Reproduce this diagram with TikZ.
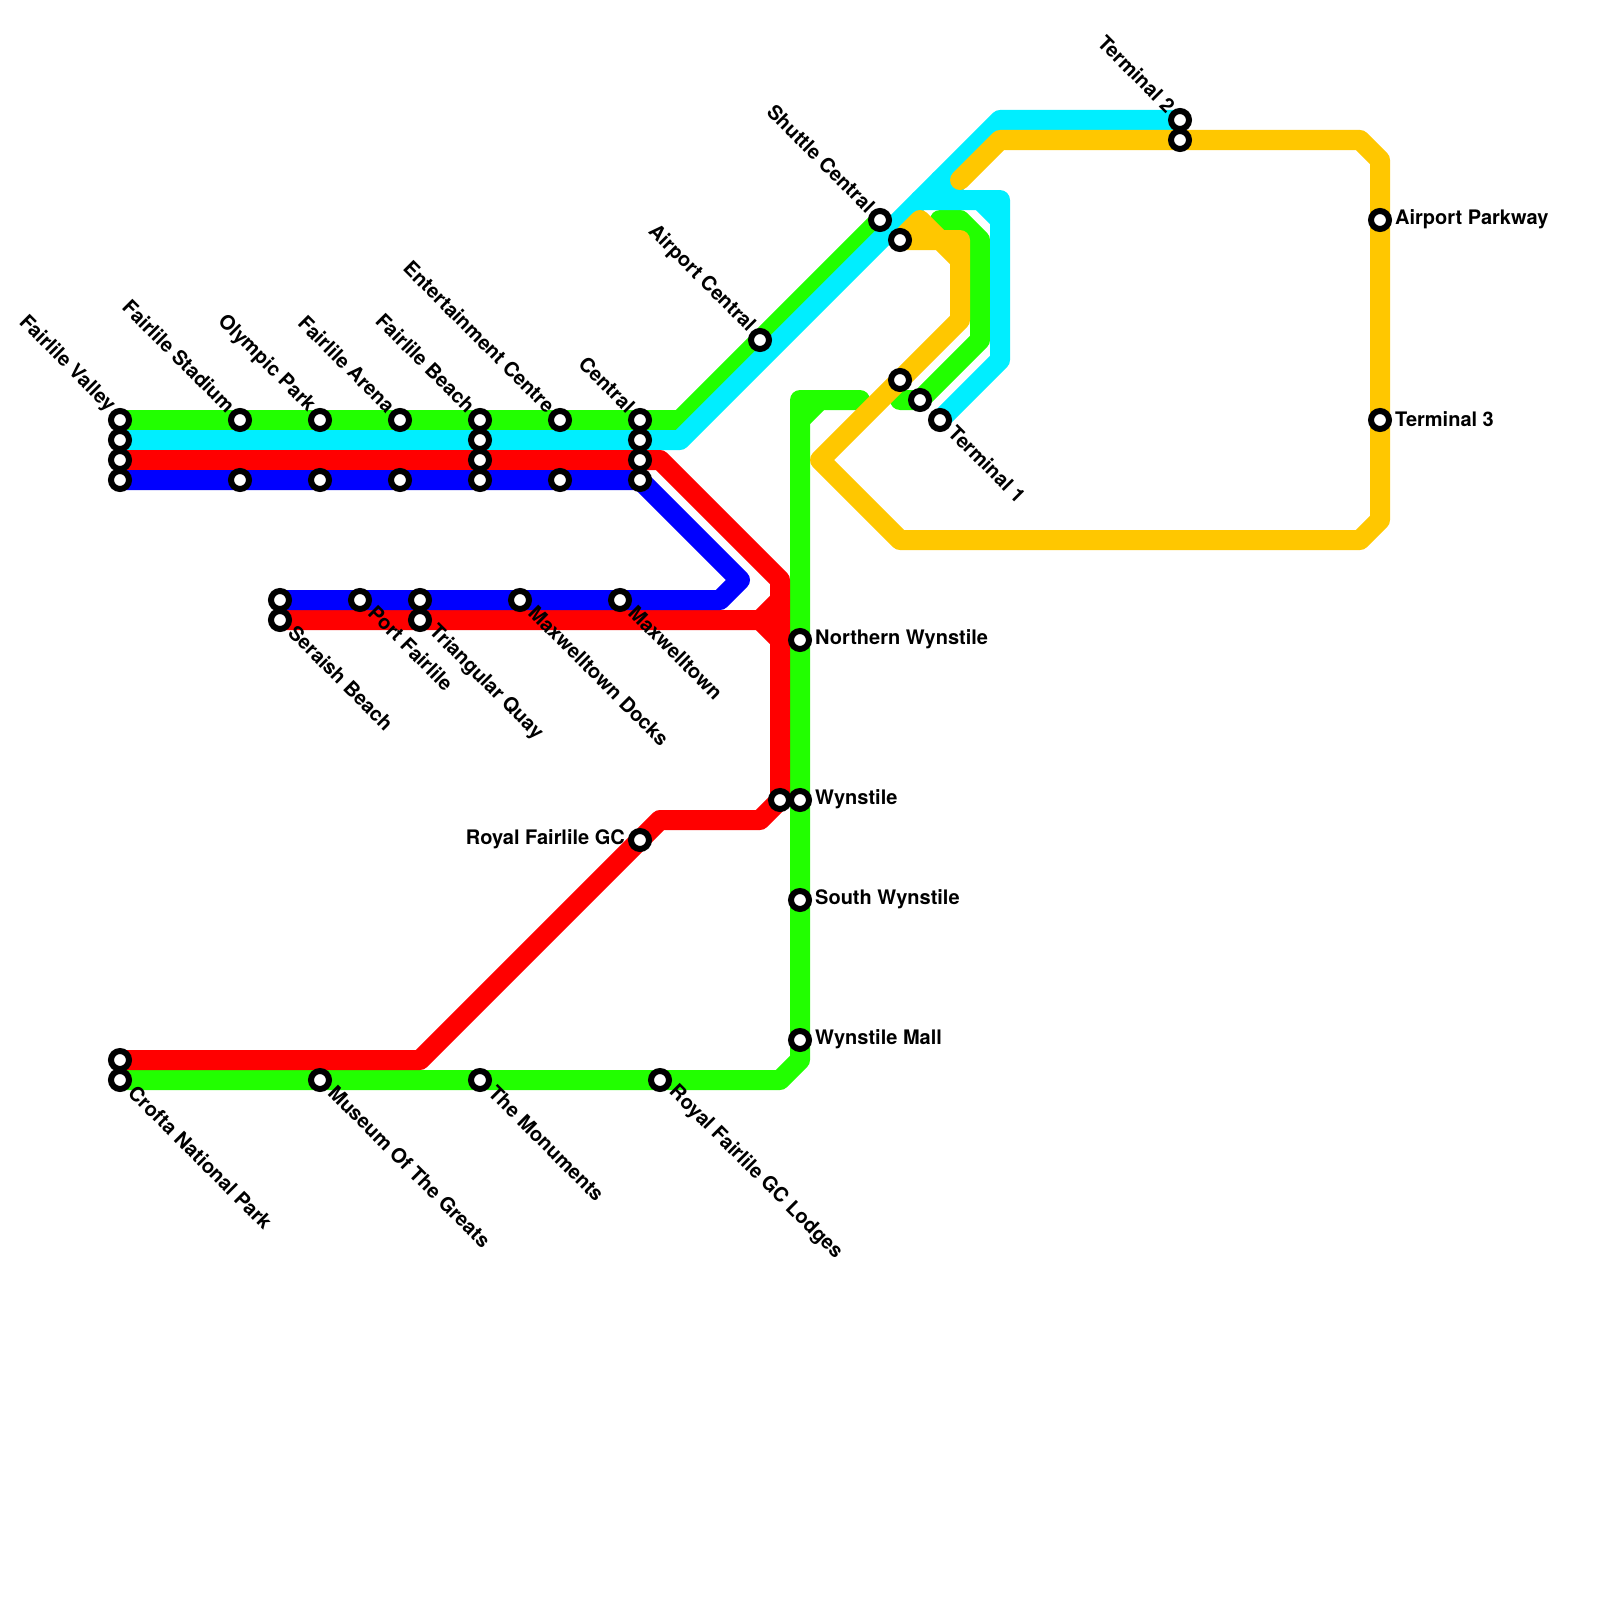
\documentclass[tikz,border=0pt]{standalone}
\usepackage{fontspec}
\setmainfont{TeX Gyre Heros}
\usetikzlibrary{calc}
\pgfdeclarelayer{lines}
\pgfsetlayers{lines,main}
\definecolor{lgreen}{RGB}{34,255,0}
\definecolor{lcyan}{RGB}{0,238,255}
\definecolor{lred}{RGB}{255,0,0}
\definecolor{lblue}{RGB}{0,0,255}
\definecolor{lyellow}{RGB}{255,199,0}
\tikzset{
  x=1pt,y=-1pt,
  metro/.style={line width=20pt,line cap=round,line join=round},
  stn/.style={circle,draw=black,fill=white,line width=6pt,minimum size=18pt,inner sep=0pt,outer sep=0pt},
  lab/.style={font=\bfseries\fontsize{20pt}{24pt}\selectfont,inner sep=0pt,text=black},
  nwlab/.style={lab,shift={(-8.5,-11)},rotate=-45,anchor=east},
  selab/.style={lab,shift={(12,9)},rotate=-45,anchor=west},
  elab/.style={lab,shift={(15,-0.5)},anchor=west},
  wlab/.style={lab,shift={(-15,-0.5)},anchor=east},
}
\begin{document}
\begin{tikzpicture}
\useasboundingbox (0,0) rectangle (1600,1600);
% stations: upper trunk
\node[stn] (fvG) at (120,420) {};
\node[stn] (fvC) at (120,440) {};
\node[stn] (fvR) at (120,460) {};
\node[stn] (fvB) at (120,480) {};
\node[stn] (fsG) at (240,420) {};
\node[stn] (fsB) at (240,480) {};
\node[stn] (opG) at (320,420) {};
\node[stn] (opB) at (320,480) {};
\node[stn] (faG) at (400,420) {};
\node[stn] (faB) at (400,480) {};
\node[stn] (fbG) at (480,420) {};
\node[stn] (fbC) at (480,440) {};
\node[stn] (fbR) at (480,460) {};
\node[stn] (fbB) at (480,480) {};
\node[stn] (ecG) at (560,420) {};
\node[stn] (ecB) at (560,480) {};
\node[stn] (ceG) at (640,420) {};
\node[stn] (ceC) at (640,440) {};
\node[stn] (ceR) at (640,460) {};
\node[stn] (ceB) at (640,480) {};
% north-east
\node[stn] (ac) at (760,340) {};
\node[stn] (sc) at (880,220) {};
\node[stn] (scY) at (900,240) {};
\node[stn] (t1Y) at (900,380) {};
\node[stn] (t1G) at (920,400) {};
\node[stn] (t1C) at (940,420) {};
\node[stn] (t2C) at (1180,120) {};
\node[stn] (t2Y) at (1180,140) {};
\node[stn] (apk) at (1380,220) {};
\node[stn] (t3) at (1380,420) {};
% middle branch
\node[stn] (seB) at (280,600) {};
\node[stn] (seR) at (280,620) {};
\node[stn] (pf) at (360,600) {};
\node[stn] (tqB) at (420,600) {};
\node[stn] (tqR) at (420,620) {};
\node[stn] (md) at (520,600) {};
\node[stn] (mt) at (620,600) {};
% Wynstile column
\node[stn] (nw) at (800,640) {};
\node[stn] (wyR) at (780,800) {};
\node[stn] (wyG) at (800,800) {};
\node[stn] (sw) at (800,900) {};
\node[stn] (wm) at (800,1040) {};
% south
\node[stn] (rg) at (640,840) {};
\node[stn] (cnR) at (120,1060) {};
\node[stn] (cnG) at (120,1080) {};
\node[stn] (mg) at (320,1080) {};
\node[stn] (tm) at (480,1080) {};
\node[stn] (rl) at (660,1080) {};
% bends
\coordinate (g1) at (680,420);
\coordinate (g2) at (780,1080);
\coordinate (g3) at (800,1060);
\coordinate (g4) at (800,400);
\coordinate (g4a) at (800,420);
\coordinate (g4b) at (820,400);
\coordinate (g4e) at (860,400);
\coordinate (g0) at (900,400);
\coordinate (g6) at (980,340);
\coordinate (g7) at (980,240);
\coordinate (g8) at (960,220);
\coordinate (g9) at (940,220);
\coordinate (c1) at (680,440);
\coordinate (c2) at (1000,120);
\coordinate (c3) at (920,200);
\coordinate (c3a) at (940,180);
\coordinate (c3b) at (960,200);
\coordinate (c4) at (1000,200);
\coordinate (c4a) at (980,200);
\coordinate (c4b) at (1000,220);
\coordinate (c5) at (1000,360);
\coordinate (r1) at (420,1060);
\coordinate (r2) at (660,820);
\coordinate (r3) at (760,820);
\coordinate (r4) at (780,580);
\coordinate (r5) at (660,460);
\coordinate (r6) at (760,620);
\coordinate (r7) at (780,600);
\coordinate (r8) at (780,640);
\coordinate (b1) at (740,580);
\coordinate (b2) at (720,600);
\coordinate (y1) at (960,180);
\coordinate (y2) at (1000,140);
\coordinate (y3) at (1360,140);
\coordinate (y4) at (1380,160);
\coordinate (y5) at (1380,520);
\coordinate (y6) at (1360,540);
\coordinate (y7) at (900,540);
\coordinate (y8) at (820,460);
\coordinate (y9) at (960,320);
\coordinate (y10) at (960,240);
\coordinate (y11) at (920,220);
\coordinate (y12) at (960,260);
% lines
\begin{pgfonlayer}{lines}
\draw[metro,lgreen] (fvG.center) -- (g1) -- (sc.center);
\draw[metro,lgreen] (cnG.center) -- (g2) -- (g3) -- (g4) -- (g4e);
\draw[metro,lgreen] (g0) -- (t1G.center) -- (g6) -- (g7) -- (g8) -- (g9);
\draw[metro,lgreen] (g4a) -- (g4b);
\draw[metro,lcyan] (fvC.center) -- (c1) -- (c2) -- (t2C.center);
\draw[metro,lcyan] (c3) -- (c4) -- (c5) -- (t1C.center);
\draw[metro,lcyan] (c3a) -- (c3b);
\draw[metro,lcyan] (c4a) -- (c4b);
\draw[metro,lred] (cnR.center) -- (r1) -- (r2) -- (r3) -- (wyR.center) -- (r4) -- (r5) -- (fvR.center);
\draw[metro,lred] (seR.center) -- (r6) -- (r7);
\draw[metro,lred] (r6) -- (r8);
\draw[metro,lblue] (fvB.center) -- (ceB.center) -- (b1) -- (b2) -- (seB.center);
\draw[metro,lyellow] (y1) -- (y2) -- (y3) -- (y4) -- (y5) -- (y6) -- (y7) -- (y8) -- (y9) -- (y10) -- (scY.center) -- (y11) -- (y12);
\end{pgfonlayer}
% labels
\node[nwlab] (lfv) at (fvG) {Fairlile Valley};
\node[nwlab] (lfs) at (fsG) {Fairlile Stadium};
\node[nwlab] (lop) at (opG) {Olympic Park};
\node[nwlab] (lfa) at (faG) {Fairlile Arena};
\node[nwlab] (lfb) at (fbG) {Fairlile Beach};
\node[nwlab] (lec) at (ecG) {Entertainment Centre};
\node[nwlab] (lce) at (ceG) {Central};
\node[nwlab] (lac) at (ac) {Airport Central};
\node[nwlab] (lsc) at (sc) {Shuttle Central};
\node[nwlab] (lt2) at (t2C) {Terminal 2};
\node[elab] (lap) at (apk) {Airport Parkway};
\node[elab] (lt3) at (t3) {Terminal 3};
\node[selab] (lt1) at (t1C) {Terminal 1};
\node[elab] (lnw) at (nw) {Northern Wynstile};
\node[elab] (lwy) at (wyG) {Wynstile};
\node[elab] (lsw) at (sw) {South Wynstile};
\node[elab] (lwm) at (wm) {Wynstile Mall};
\node[wlab] (lrg) at (rg) {Royal Fairlile GC};
\node[selab] (lse) at (seR) {Seraish Beach};
\node[selab] (lpf) at (pf) {Port Fairlile};
\node[selab] (ltq) at (tqR) {Triangular Quay};
\node[selab] (lmd) at (md) {Maxwelltown Docks};
\node[selab] (lmt) at (mt) {Maxwelltown};
\node[selab] (lcn) at (cnG) {Crofta National Park};
\node[selab] (lmg) at (mg) {Museum Of The Greats};
\node[selab] (ltm) at (tm) {The Monuments};
\node[selab] (lrl) at (rl) {Royal Fairlile GC Lodges};
\end{tikzpicture}
\end{document}
